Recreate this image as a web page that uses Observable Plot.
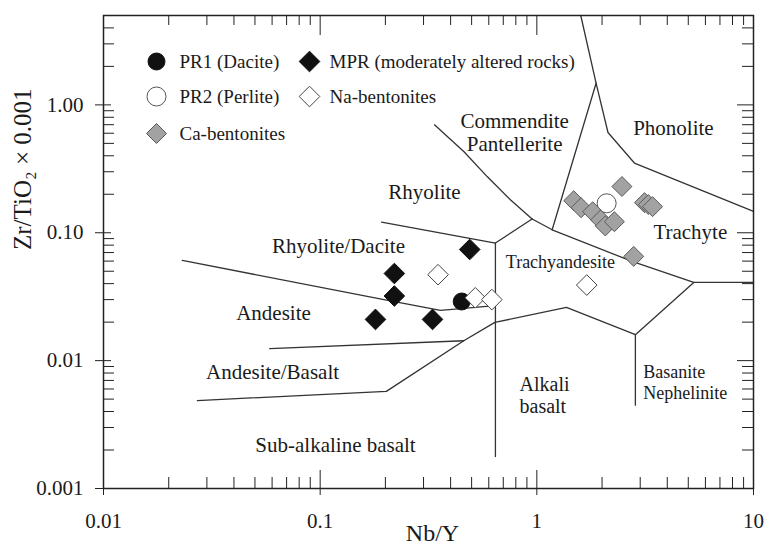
<!DOCTYPE html>
<html><head><meta charset="utf-8">
<script src="https://cdn.jsdelivr.net/npm/d3@7"></script>
<script src="https://cdn.jsdelivr.net/npm/@observablehq/plot@0.6"></script>
<style>body{margin:0;background:#fff} svg{display:block}</style>
</head><body><div id="chart"></div>
<script>
// ---- Sample data (Nb/Y, Zr/TiO2*0.001) ----
const pr1 = [{x: 0.45, y: 0.029}];
const pr2 = [{x: 2.1, y: 0.17}];
const mpr = [
  {x: 0.49, y: 0.074}, {x: 0.22, y: 0.048}, {x: 0.22, y: 0.032},
  {x: 0.18, y: 0.021}, {x: 0.33, y: 0.021}
];
const naBent = [
  {x: 0.35, y: 0.047}, {x: 0.52, y: 0.031}, {x: 0.62, y: 0.030}, {x: 1.7, y: 0.039}
];
const caBent = [
  {x: 2.47, y: 0.23}, {x: 1.48, y: 0.178}, {x: 1.60, y: 0.157}, {x: 1.81, y: 0.146},
  {x: 1.97, y: 0.126}, {x: 2.07, y: 0.113}, {x: 2.28, y: 0.122}, {x: 3.14, y: 0.172},
  {x: 3.27, y: 0.166}, {x: 3.42, y: 0.160}, {x: 2.80, y: 0.0653}
];

// ---- Field boundaries (Winchester & Floyd) ----
const boundaries = [
  ["andesite-top", [[0.0231,0.0608],[0.197,0.030],[0.359,0.0247],[0.644,0.0269]]],
  ["rhyolite-bottom", [[0.192,0.121],[0.644,0.0831]]],
  ["alkali-divide", [[0.644,0.0831],[0.644,0.00178]]],
  ["rhyolite-trachyandesite", [[0.644,0.0831],[0.951,0.128]]],
  ["comendite", [[0.337,0.698],[0.460,0.432],[0.590,0.275],[0.755,0.181],[0.951,0.128]]],
  ["trachyte-bottom", [[0.951,0.128],[1.177,0.1055],[2.75,0.0597],[5.30,0.0409],[10,0.0409]]],
  ["trachyte-left", [[1.177,0.1055],[1.877,1.477],[1.595,5]]],
  ["phonolite", [[1.877,1.477],[2.13,0.608],[2.82,0.351],[10,0.147]]],
  ["andesite-basalt-top", [[0.0585,0.0124],[0.460,0.0143]]],
  ["subalkaline-top", [[0.0271,0.00487],[0.202,0.00575],[0.460,0.0143],[0.640,0.0199],[1.37,0.0261],[2.85,0.01596],[5.30,0.0409]]],
  ["basanite", [[2.85,0.01596],[2.85,0.00448]]]
];

// ---- Field labels ----
const fieldLabels = [
  {text: "Rhyolite", x: 0.303, y: 0.209},
  {text: "Rhyolite/Dacite", x: 0.1215, y: 0.0791},
  {text: "Commendite\nPantellerite", x: 0.79, y: 0.615},
  {text: "Phonolite", x: 4.27, y: 0.661},
  {text: "Trachyte", x: 5.11, y: 0.102},
  {text: "Andesite", x: 0.0609, y: 0.0237},
  {text: "Andesite/Basalt", x: 0.0603, y: 0.0082},
  {text: "Sub-alkaline basalt", x: 0.1177, y: 0.00221}
];
const smallLabels = [
  {text: "Trachyandesite", x: 1.285, y: 0.0583}
];
const leftLabels = [
  {text: "Alkali\nbasalt", x: 0.832, y: 0.00538, size: 20},
  {text: "Basanite\nNephelinite", x: 3.10, y: 0.00686, size: 18}
];

// ---- Axes ----
const xTicks = [0.01, 0.1, 1, 10];
const xTickLabels = ["0.01", "0.1", "1", "10"];
const yTicks = [0.001, 0.01, 0.1, 1];
const yTickLabels = ["0.001", "0.01", "0.10", "1.00"];
const minorMult = [2, 3, 4, 5, 6, 7, 8, 9];
const xMinor = [0.01, 0.1, 1].flatMap(d => minorMult.map(m => m * d));
const yMinor = [0.001, 0.01, 0.1].flatMap(d => minorMult.map(m => m * d)).concat([2, 3, 4, 5]);

const legendItems = [
  {label: "PR1 (Dacite)", series: "PR1", col: 0, row: 0},
  {label: "MPR (moderately altered rocks)", series: "MPR", col: 1, row: 0},
  {label: "PR2 (Perlite)", series: "PR2", col: 0, row: 1},
  {label: "Na-bentonites", series: "Na", col: 1, row: 1},
  {label: "Ca-bentonites", series: "Ca", col: 0, row: 2}
];

// ---- Styles ----
const sty = {
  PR1: {symbol: "circle", r: 8.5, fill: "#111", stroke: "#111", strokeWidth: 1},
  PR2: {symbol: "circle", r: 9.5, fill: "#fff", stroke: "#555", strokeWidth: 1},
  MPR: {symbol: "diamond2", r: 9.3, fill: "#111", stroke: "#111", strokeWidth: 1},
  Na:  {symbol: "diamond2", r: 9.3, fill: "#fff", stroke: "#444", strokeWidth: 1},
  Ca:  {symbol: "diamond2", r: 9.0, fill: "#a2a2a2", stroke: "#5a5a5a", strokeWidth: 1}
};

const W = 765, H = 546;
const mL = 103, mR = 12, mT = 15, mB = 58;
const FW = W - mL - mR, FH = H - mT - mB;
const lineCol = "#333";
const txtCol = "#1a1a1a";
const font = "'Liberation Serif', 'Times New Roman', serif";

const boundaryRows = boundaries.flatMap(([seg, pts]) => pts.map(([x, y]) => ({seg, x, y})));

const legendMarks = legendItems.flatMap(it => {
  const sx = it.col === 0 ? 53 : 206;
  const tx = it.col === 0 ? 76 : 226;
  const dy = [46, 81, 118][it.row];
  return [
    Plot.dot([it.label], {frameAnchor: "top-left", dx: sx, dy, ...sty[it.series]}),
    Plot.text([it.label], {frameAnchor: "top-left", dx: tx, dy, textAnchor: "start", lineAnchor: "middle", fontSize: 19, fill: txtCol})
  ];
});

const tickStyle = {stroke: "#222", strokeWidth: 1};

const chart = Plot.plot({
  width: W, height: H,
  marginLeft: mL, marginRight: mR, marginTop: mT, marginBottom: mB,
  style: {fontFamily: font, background: "#fff", color: txtCol},
  x: {type: "log", domain: [0.01, 10]},
  y: {type: "log", domain: [0.001, 5]},
  marks: [
    // ticks
    Plot.tickX(xMinor, {x: d => d, insetTop: FH - 11, ...tickStyle}),
    Plot.tickX(xTicks, {x: d => d, insetTop: FH - 18, insetBottom: -7, ...tickStyle}),
    Plot.tickX(xMinor, {x: d => d, insetBottom: FH - 10, ...tickStyle}),
    Plot.tickX(xTicks, {x: d => d, insetBottom: FH - 20, ...tickStyle}),
    Plot.tickY(yMinor, {y: d => d, insetRight: FW - 11, ...tickStyle}),
    Plot.tickY(yTicks, {y: d => d, insetRight: FW - 8, insetLeft: -8, ...tickStyle}),
    Plot.tickY(yMinor, {y: d => d, insetLeft: FW - 11, ...tickStyle}),
    Plot.tickY(yTicks, {y: d => d, insetLeft: FW - 16, ...tickStyle}),
    Plot.axisX({anchor: "bottom", ticks: xTicks, tickSize: 0, tickPadding: 25, fontSize: 21, label: null,
      tickFormat: d => xTickLabels[xTicks.indexOf(d)], fill: txtCol}),
    Plot.axisY({anchor: "left", ticks: yTicks, tickSize: 0, tickPadding: 20, fontSize: 21, label: null,
      tickFormat: d => yTickLabels[yTicks.indexOf(d)], fill: txtCol}),
    Plot.text(["Nb/Y"], {frameAnchor: "bottom", dx: 4, dy: 45, fontSize: 24, lineAnchor: "middle", fill: txtCol}),
    Plot.text(["Zr/TiO₂ × 0.001"], {frameAnchor: "left", dx: -81, dy: -2, rotate: -90, fontSize: 25, lineAnchor: "middle", fill: txtCol}),
    // boundaries
    Plot.line(boundaryRows, {x: "x", y: "y", z: "seg", stroke: lineCol, strokeWidth: 1.3, curve: "linear"}),
    // labels
    Plot.text(fieldLabels, {x: "x", y: "y", text: "text", fontSize: 21, lineHeight: 1.12, fill: txtCol}),
    Plot.text(smallLabels, {x: "x", y: "y", text: "text", fontSize: 18, fill: txtCol}),
    Plot.text(leftLabels.filter(d => d.size === 20), {x: "x", y: "y", text: "text", textAnchor: "start", fontSize: 20, lineHeight: 1.12, fill: txtCol}),
    Plot.text(leftLabels.filter(d => d.size === 18), {x: "x", y: "y", text: "text", textAnchor: "start", fontSize: 18, lineHeight: 1.15, fill: txtCol}),
    // samples
    Plot.dot(pr1, {x: "x", y: "y", ...sty.PR1}),
    Plot.dot(naBent, {x: "x", y: "y", ...sty.Na}),
    Plot.dot(mpr, {x: "x", y: "y", ...sty.MPR}),
    Plot.dot(pr2, {x: "x", y: "y", ...sty.PR2}),
    Plot.dot(caBent, {x: "x", y: "y", ...sty.Ca}),
    ...legendMarks,
    Plot.frame({stroke: "#222", strokeWidth: 1.5})
  ]
});
document.getElementById("chart").appendChild(chart);
</script>
</body></html>
